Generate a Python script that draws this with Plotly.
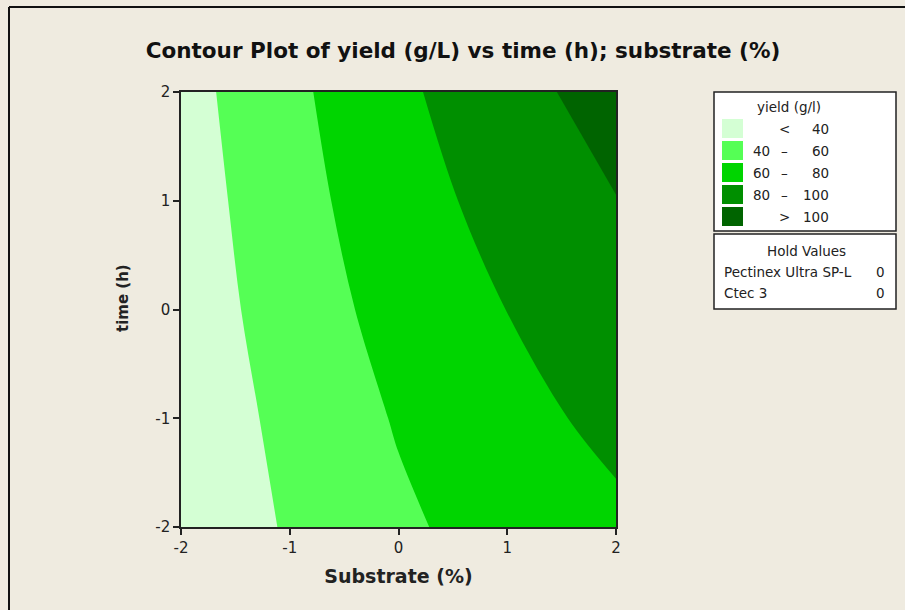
import plotly.graph_objects as go

# contour grid
substrate = [-2, -1, 0, 1, 2]
time_h = [-2, -1, 0, 1, 2]
yield_gl = [
    [26.8, 41.7, 56.5, 68.9, 76.0],
    [27.6, 44.8, 61.6, 73.7, 85.0],
    [29.4, 48.6, 67.6, 80.2, 92.0],
    [30.6, 52.3, 72.5, 86.2, 99.5],
    [32.6, 55.5, 76.3, 92.7, 108.7],
]
axis_ticks = [-2, -1, 0, 1, 2]
axis_ticktext = ["-2", "-1", "0", "1", "2"]
level_start, level_end, level_step = 40, 100, 20
band_colors = ["#D4FFD4", "#55FF55", "#00D500", "#008F00", "#006400"]
band_lo = ["", "40", "60", "80", ""]
band_sym = ["<", "–", "–", "–", ">"]
band_hi = ["40", "60", "80", "100", "100"]
hold_names = ["Pectinex Ultra SP-L", "Ctec 3"]
hold_vals = ["0", "0"]

BG = "#EFEBE0"
FONT = "DejaVu Sans"
TXT = "#222"

# plot area in pixels: x 181..616, y 92..527
def px(x):
    return (x - 181) / 435.0

def py(y):
    return (527 - y) / 435.0

def label(x, y, text, size=13.5, xanchor="center", **kw):
    return dict(xref="paper", yref="paper", x=px(x), y=py(y), text=text,
                showarrow=False, xanchor=xanchor, yanchor="middle",
                font=dict(family=FONT, size=size, color=TXT), **kw)

fig = go.Figure()
fig.add_trace(go.Contour(
    x=substrate,
    y=time_h,
    z=yield_gl,
    contours=dict(start=level_start, end=level_end, size=level_step,
                  coloring="fill", showlines=False),
    colorscale=[[i / 4, c] for i, c in enumerate(band_colors)],
    line=dict(width=0),
    showscale=False,
))

shapes = []
annotations = []

# window frame (top and left edge)
shapes.append(dict(type="line", xref="paper", yref="paper",
                   x0=px(9), x1=px(910), y0=py(7), y1=py(7),
                   line=dict(color="#111", width=2)))
shapes.append(dict(type="line", xref="paper", yref="paper",
                   x0=px(9), x1=px(9), y0=py(7), y1=py(615),
                   line=dict(color="#111", width=2)))

# legend box
shapes.append(dict(type="rect", xref="paper", yref="paper",
                   x0=px(714), x1=px(896), y0=py(92), y1=py(231),
                   fillcolor="white", line=dict(color=TXT, width=1.5)))
annotations.append(label(789, 107, "yield (g/l)"))
for i, col in enumerate(band_colors):
    top = 119 + i * 22
    shapes.append(dict(type="rect", xref="paper", yref="paper",
                       x0=px(722), x1=px(743), y0=py(top), y1=py(top + 19),
                       fillcolor=col, line=dict(width=0)))
    yc = top + 9.5
    if band_lo[i]:
        annotations.append(label(751, yc, band_lo[i], xanchor="left"))
    annotations.append(label(784, yc, band_sym[i]))
    annotations.append(label(831, yc, band_hi[i], xanchor="right"))

# hold values box
shapes.append(dict(type="rect", xref="paper", yref="paper",
                   x0=px(714), x1=px(896), y0=py(234), y1=py(309),
                   fillcolor="white", line=dict(color=TXT, width=1.5)))
annotations.append(label(806, 251, "Hold Values"))
for i, name in enumerate(hold_names):
    yc = 272 + i * 21
    annotations.append(label(722, yc, name, xanchor="left"))
    annotations.append(label(887, yc, hold_vals[i], xanchor="right"))

# y axis title placed by hand (sits a bit above the plot centre)
annotations.append(label(123, 298, "<b>time (h)</b>", size=15, textangle=-90))

axis_style = dict(
    range=[-2, 2],
    tickvals=axis_ticks,
    ticktext=axis_ticktext,
    ticks="outside",
    ticklen=6,
    tickwidth=1.5,
    tickcolor=TXT,
    showline=True,
    mirror=True,
    linecolor=TXT,
    linewidth=1.5,
    showgrid=False,
    zeroline=False,
    tickfont=dict(family=FONT, size=15, color=TXT),
)

fig.update_layout(
    width=905,
    height=610,
    paper_bgcolor=BG,
    plot_bgcolor=BG,
    margin=dict(l=181, r=289, t=92, b=83),
    font=dict(family=FONT, color=TXT),
    title=dict(text="<b>Contour Plot of yield (g/L) vs time (h); substrate (%)</b>",
               x=463 / 905, xanchor="center", y=1 - 50 / 610, yanchor="middle",
               font=dict(family=FONT, size=21.5, color="#111")),
    xaxis=dict(axis_style, title=dict(text="<b>Substrate (%)</b>", standoff=14,
                                      font=dict(family=FONT, size=19))),
    yaxis=axis_style,
    shapes=shapes,
    annotations=annotations,
)

fig.write_html("out.html", config={"displayModeBar": False},
               post_script="document.body.style.margin='0';")
